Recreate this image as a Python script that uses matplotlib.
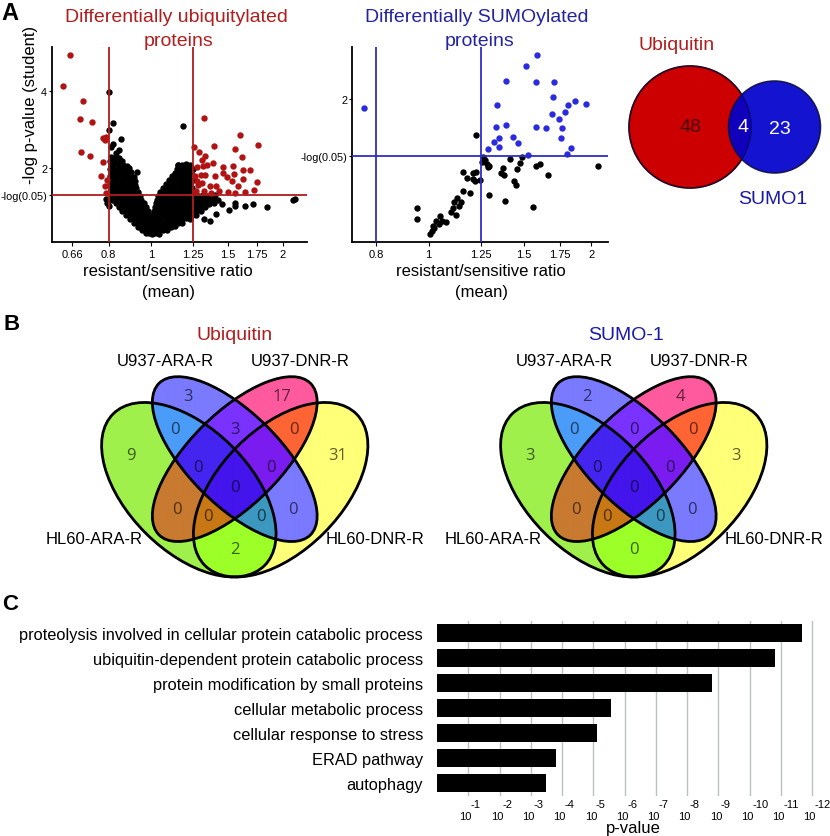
import numpy as np
import matplotlib.pyplot as plt
from matplotlib.patches import Ellipse, Circle
from matplotlib.colors import to_rgba
from matplotlib.ticker import NullLocator

plt.rcParams['font.family'] = ['Liberation Sans', 'DejaVu Sans']

# ---------------- data ----------------
# panel A, ubiquitin volcano: (resistant/sensitive ratio, -log p)
ub_sig = [
    (0.653, 4.94), (0.628, 4.14), (0.698, 3.75), (0.688, 3.27), (0.732, 3.19),
    (0.691, 2.41), (0.725, 2.30), (0.775, 2.77), (0.785, 2.73), (0.79, 2.80),
    (0.778, 2.15), (0.767, 1.78), (0.785, 1.54), (0.79, 1.35), (0.795, 1.70),
    (1.324, 3.30), (1.597, 2.86), (1.76, 2.60), (1.395, 2.58), (1.556, 2.49),
    (1.254, 2.54), (1.289, 2.42), (1.328, 2.32), (1.31, 2.20), (1.617, 2.29),
    (1.388, 2.13), (1.463, 2.02), (1.537, 2.06), (1.625, 1.95), (1.684, 1.96),
    (1.55, 1.85), (1.317, 2.06), (1.34, 2.08), (1.272, 2.02), (1.30, 1.83),
    (1.33, 1.83), (1.40, 1.80), (1.46, 1.86), (1.49, 1.76), (1.625, 1.71),
    (1.745, 1.63), (1.272, 1.67), (1.31, 1.62), (1.364, 1.54), (1.41, 1.54),
    (1.72, 1.44), (1.64, 1.37), (1.56, 1.36), (1.43, 1.41), (1.27, 1.41),
    (1.32, 1.41), (1.37, 1.36), (1.50, 1.38), (1.26, 1.78), (1.28, 1.55),
    (1.53, 1.65), (1.58, 1.52),
]
ub_ns = [
    # outliers
    (0.803, 3.98), (0.82, 3.16), (1.185, 3.10), (0.80, 2.98), (0.852, 2.74),
    (0.81, 2.55), (0.845, 2.46), (0.82, 2.62), (0.83, 2.40), (0.93, 1.89),
    (1.155, 2.08), (1.18, 1.98), (2.13, 1.19), (2.11, 1.17), (1.84, 0.99),
    (1.71, 1.06), (1.64, 1.02), (1.56, 1.10), (1.56, 1.00), (1.51, 0.91),
    (1.45, 1.06), (1.364, 0.63), (1.41, 0.81), (1.32, 0.68),
    (0.79, 1.20), (0.795, 1.10), (0.80, 1.00),
    # left arm of the V
    (0.81, 2.28), (0.83, 2.29), (0.845, 2.27),
    (0.805, 2.18), (0.82, 2.19), (0.84, 2.17), (0.86, 2.18),
    (0.81, 2.08), (0.825, 2.09), (0.845, 2.07), (0.865, 2.08), (0.88, 2.06),
    (0.805, 1.98), (0.82, 1.99), (0.84, 1.97), (0.86, 1.98), (0.875, 1.96), (0.89, 1.99),
    (0.81, 1.88), (0.83, 1.89), (0.85, 1.87), (0.87, 1.88), (0.885, 1.86), (0.90, 1.89),
    (0.805, 1.78), (0.82, 1.79), (0.84, 1.77), (0.86, 1.78), (0.88, 1.76), (0.90, 1.79), (0.915, 1.77),
    (0.81, 1.68), (0.83, 1.69), (0.85, 1.67), (0.87, 1.68), (0.89, 1.66), (0.905, 1.69), (0.92, 1.67),
    (0.805, 1.58), (0.825, 1.59), (0.845, 1.57), (0.865, 1.58), (0.885, 1.56), (0.90, 1.59), (0.92, 1.57),
    (0.81, 1.48), (0.83, 1.49), (0.85, 1.47), (0.87, 1.48), (0.89, 1.46), (0.91, 1.49), (0.925, 1.47),
    (0.805, 1.38), (0.82, 1.39), (0.84, 1.37), (0.86, 1.38), (0.88, 1.36), (0.90, 1.39), (0.92, 1.37), (0.935, 1.38),
    (0.81, 1.28), (0.83, 1.29), (0.85, 1.27), (0.87, 1.28), (0.89, 1.26), (0.91, 1.29), (0.93, 1.27), (0.945, 1.28),
    (0.815, 1.18), (0.835, 1.19), (0.855, 1.17), (0.875, 1.18), (0.895, 1.16), (0.915, 1.19), (0.935, 1.17), (0.95, 1.18),
    (0.83, 1.08), (0.85, 1.09), (0.87, 1.07), (0.89, 1.08), (0.91, 1.06), (0.93, 1.09), (0.95, 1.07), (0.965, 1.08),
    (0.845, 0.98), (0.865, 0.99), (0.885, 0.97), (0.905, 0.98), (0.925, 0.96), (0.945, 0.99), (0.96, 0.97), (0.975, 0.98),
    (0.86, 0.88), (0.88, 0.89), (0.90, 0.87), (0.92, 0.88), (0.94, 0.86), (0.955, 0.89), (0.97, 0.87), (0.985, 0.88),
    (0.875, 0.78), (0.895, 0.79), (0.915, 0.77), (0.935, 0.78), (0.95, 0.76), (0.965, 0.79), (0.98, 0.77), (0.995, 0.78),
    (0.895, 0.68), (0.915, 0.69), (0.935, 0.67), (0.95, 0.68), (0.965, 0.66), (0.98, 0.69), (0.995, 0.67),
    (0.915, 0.58), (0.935, 0.59), (0.95, 0.57), (0.965, 0.58), (0.98, 0.56), (0.995, 0.59),
    (0.935, 0.48), (0.955, 0.49), (0.97, 0.47), (0.985, 0.48), (1.0, 0.46),
    (0.955, 0.38), (0.97, 0.39), (0.985, 0.37), (1.0, 0.38),
    (0.975, 0.30), (0.99, 0.31), (1.005, 0.29),
    # right arm of the V
    (1.155, 2.08), (1.18, 2.07), (1.205, 2.09), (1.23, 2.08),
    (1.145, 1.98), (1.17, 1.97), (1.195, 1.99), (1.22, 1.98), (1.245, 1.97),
    (1.135, 1.88), (1.16, 1.87), (1.185, 1.89), (1.21, 1.88), (1.235, 1.87),
    (1.115, 1.78), (1.14, 1.77), (1.165, 1.79), (1.19, 1.78), (1.215, 1.77), (1.24, 1.79),
    (1.10, 1.68), (1.125, 1.67), (1.15, 1.69), (1.175, 1.68), (1.20, 1.67), (1.225, 1.69), (1.245, 1.68),
    (1.08, 1.58), (1.105, 1.57), (1.13, 1.59), (1.155, 1.58), (1.18, 1.57), (1.205, 1.59), (1.23, 1.58),
    (1.065, 1.48), (1.09, 1.47), (1.115, 1.49), (1.14, 1.48), (1.165, 1.47), (1.19, 1.49), (1.215, 1.48), (1.24, 1.47),
    (1.05, 1.38), (1.075, 1.37), (1.10, 1.39), (1.125, 1.38), (1.15, 1.37), (1.175, 1.39), (1.20, 1.38),
    (1.225, 1.37), (1.245, 1.39),
    (1.04, 1.28), (1.065, 1.27), (1.09, 1.29), (1.115, 1.28), (1.14, 1.27), (1.165, 1.29), (1.19, 1.28),
    (1.215, 1.27), (1.24, 1.29), (1.265, 1.28), (1.29, 1.27), (1.315, 1.29), (1.34, 1.28), (1.37, 1.27), (1.40, 1.29),
    (1.03, 1.18), (1.055, 1.17), (1.08, 1.19), (1.105, 1.18), (1.13, 1.17), (1.155, 1.19), (1.18, 1.18),
    (1.205, 1.17), (1.23, 1.19), (1.255, 1.18), (1.28, 1.17), (1.305, 1.19), (1.33, 1.18), (1.36, 1.17),
    (1.39, 1.19), (1.42, 1.18),
    (1.025, 1.08), (1.05, 1.07), (1.075, 1.09), (1.10, 1.08), (1.125, 1.07), (1.15, 1.09), (1.175, 1.08),
    (1.20, 1.07), (1.225, 1.09), (1.25, 1.08), (1.275, 1.07), (1.30, 1.09), (1.33, 1.08), (1.36, 1.07), (1.39, 1.09),
    (1.02, 0.98), (1.045, 0.97), (1.07, 0.99), (1.095, 0.98), (1.12, 0.97), (1.145, 0.99), (1.17, 0.98),
    (1.195, 0.97), (1.22, 0.99), (1.245, 0.98), (1.27, 0.97), (1.30, 0.99), (1.33, 0.98),
    (1.015, 0.88), (1.04, 0.87), (1.065, 0.89), (1.09, 0.88), (1.115, 0.87), (1.14, 0.89), (1.165, 0.88),
    (1.19, 0.87), (1.215, 0.89), (1.24, 0.88), (1.27, 0.87), (1.30, 0.89),
    (1.01, 0.78), (1.035, 0.77), (1.06, 0.79), (1.085, 0.78), (1.11, 0.77), (1.135, 0.79), (1.16, 0.78),
    (1.185, 0.77), (1.21, 0.79), (1.24, 0.78), (1.27, 0.77),
    (1.01, 0.68), (1.03, 0.67), (1.055, 0.69), (1.08, 0.68), (1.105, 0.67), (1.13, 0.69), (1.155, 0.68),
    (1.18, 0.67), (1.205, 0.69), (1.23, 0.68),
    (1.01, 0.58), (1.03, 0.57), (1.05, 0.59), (1.075, 0.58), (1.10, 0.57), (1.125, 0.59), (1.15, 0.58), (1.175, 0.57),
    (1.015, 0.48), (1.035, 0.47), (1.06, 0.49), (1.085, 0.48), (1.11, 0.47), (1.135, 0.49),
    (1.015, 0.38), (1.04, 0.37), (1.065, 0.39), (1.09, 0.38),
    (1.02, 0.30), (1.045, 0.29),
]

# panel A, SUMO volcano
sumo_sig = [
    (0.760, 1.886), (1.585, 2.54), (1.514, 2.40), (1.391, 2.225), (1.580, 2.21),
    (1.706, 2.21), (1.70, 2.03), (1.339, 1.93), (1.809, 1.93), (1.864, 1.976),
    (1.953, 1.94), (1.786, 1.84), (1.693, 1.82), (1.741, 1.755), (1.763, 1.64),
    (1.649, 1.65), (1.58, 1.66), (1.391, 1.68), (1.333, 1.66), (1.757, 1.52),
    (1.431, 1.53), (1.349, 1.52), (1.322, 1.47), (1.461, 1.46), (1.35, 1.41),
    (1.289, 1.387), (1.835, 1.395), (1.80, 1.33), (1.525, 1.31),
]
sumo_ns = [
    (1.224, 1.56), (1.272, 1.256), (1.28, 1.20), (1.29, 1.16), (1.256, 1.23),
    (1.374, 1.15), (1.36, 1.09), (1.38, 1.07), (1.415, 1.264), (1.456, 1.14),
    (1.476, 1.215), (1.487, 1.285), (1.436, 1.00), (1.452, 0.945), (1.385, 0.745),
    (1.294, 0.826), (1.558, 0.675), (1.58, 1.18), (1.605, 1.20), (1.664, 1.07),
    (2.055, 1.175), (1.244, 1.01), (1.22, 1.00), (1.21, 1.02), (1.224, 1.10),
    (1.21, 1.09), (1.16, 1.108), (1.179, 1.027), (1.159, 0.875), (1.192, 0.847),
    (1.130, 0.78), (1.146, 0.74), (1.115, 0.733), (1.137, 0.69), (1.102, 0.62),
    (1.125, 0.58), (1.052, 0.57), (1.033, 0.507), (1.075, 0.487), (1.02, 0.446),
    (1.016, 0.385), (1.008, 0.344), (1.024, 0.414), (0.951, 0.663), (0.953, 0.528),
    (1.292, 1.18), (1.26, 1.29), (1.06, 0.50), (1.045, 0.47), (1.11, 0.66),
]
ratio_ticks = [0.66, 0.8, 1, 1.25, 1.5, 1.75, 2]
ratio_ticklabels = ['0.66', '0.8', '1', '1.25', '1.5', '1.75', '2']
sumo_ratio_ticks = [0.8, 1, 1.25, 1.5, 1.75, 2]
sumo_ratio_ticklabels = ['0.8', '1', '1.25', '1.5', '1.75', '2']
ratio_cut = [0.8, 1.25]
p_cut = -np.log10(0.05)

# overlap of the two sets (Ubiquitin only, both, SUMO1 only)
overlap_counts = [48, 4, 23]

# panel B, 4-set Venn: A=HL60-ARA-R, B=U937-ARA-R, C=U937-DNR-R, D=HL60-DNR-R
venn_sets = ['HL60-ARA-R', 'U937-ARA-R', 'U937-DNR-R', 'HL60-DNR-R']
venn_regions = ['A', 'B', 'C', 'D', 'AB', 'AC', 'AD', 'BC', 'BD', 'CD',
                'ABC', 'ABD', 'ACD', 'BCD', 'ABCD']
ub_venn_counts = [9, 3, 17, 31, 0, 0, 2, 3, 0, 0, 0, 0, 0, 0, 0]
sumo_venn_counts = [3, 2, 4, 3, 0, 0, 0, 0, 0, 0, 0, 0, 0, 0, 0]

# panel C, GO terms
go_terms = ['proteolysis involved in cellular protein catabolic process',
            'ubiquitin-dependent protein catabolic process',
            'protein modification by small proteins',
            'cellular metabolic process',
            'cellular response to stress',
            'ERAD pathway',
            'autophagy']
go_neglog_p = [11.66, 10.80, 8.79, 5.56, 5.11, 3.80, 3.48]
go_exponents = list(range(1, 13))

# ---------------- figure ----------------
W, H = 830, 837
fig = plt.figure(figsize=(W / 100, H / 100), dpi=100)

RED = '#b01e1e'
RED_DOT = '#b21212'
BLUE = '#24249e'
BLUE_DOT = '#2a2ae0'
BLUE_LINE = '#2d2dc8'


def px_axes(x0, y0, x1, y1):
    return fig.add_axes([x0 / W, 1 - y1 / H, (x1 - x0) / W, (y1 - y0) / H])


def ftext(x, y, s, **kw):
    return fig.text(x / W, 1 - y / H, s, **kw)


def volcano(ax, ns, sig, sig_color, line_color, xlim, ylim, xt, xtl, yt, ytl):
    r, p = zip(*ns)
    ax.scatter(r, p, s=21, c='black', linewidths=0, zorder=2)
    r, p = zip(*sig)
    ax.scatter(r, p, s=21, c=sig_color, linewidths=0, zorder=3)
    ax.set_xscale('log')
    ax.set_xlim(*xlim)
    ax.set_ylim(*ylim)
    for c in ratio_cut:
        ax.axvline(c, color=line_color, lw=1.3, zorder=4)
    ax.axhline(p_cut, color=line_color, lw=1.3, zorder=4)
    ax.set_xticks(xt)
    ax.set_xticklabels(xtl)
    ax.xaxis.set_minor_locator(NullLocator())
    ax.set_yticks(yt)
    ax.set_yticklabels(ytl)
    for s in ['top', 'right']:
        ax.spines[s].set_visible(False)
    for s in ['left', 'bottom']:
        ax.spines[s].set_linewidth(1.3)
    ax.tick_params(labelsize=8, length=3, width=0.8, pad=2)
    ax.tick_params(axis='y', labelsize=7.8, length=2.5, pad=1)


ax1 = px_axes(52, 48, 307, 243)
volcano(ax1, ub_ns, ub_sig, RED_DOT, RED, (0.594, 2.273), (0.078, 5.14),
        ratio_ticks, ratio_ticklabels, [p_cut, 2, 4], ['-log(0.05)', '2', '4'])
ax2 = px_axes(352, 48, 608, 243)
volcano(ax2, sumo_ns, sumo_sig, BLUE_DOT, BLUE_LINE, (0.722, 2.147), (0.246, 2.638),
        sumo_ratio_ticks, sumo_ratio_ticklabels, [p_cut, 2], ['-log(0.05)', '2'])

ftext(176, 18, 'Differentially ubiquitylated', color=RED, fontsize=14, ha='center', va='center')
ftext(179, 42, 'proteins', color=RED, fontsize=14, ha='center', va='center')
ftext(477, 18, 'Differentially SUMOylated', color=BLUE, fontsize=14, ha='center', va='center')
ftext(480, 42, 'proteins', color=BLUE, fontsize=14, ha='center', va='center')
ftext(31, 105, '-log p-value (student)', fontsize=12, rotation=90, ha='center', va='center')
for cx in (168, 481):
    ftext(cx, 272, 'resistant/sensitive ratio', fontsize=12, ha='center', va='center')
    ftext(cx, 293, '(mean)', fontsize=12, ha='center', va='center')

# two-set Venn
axv = px_axes(600, 0, 830, 230)
axv.set_xlim(600, 830)
axv.set_ylim(230, 0)
axv.axis('off')
ub_total = overlap_counts[0] + overlap_counts[1]
sumo_total = overlap_counts[1] + overlap_counts[2]
k = 61 / np.sqrt(ub_total)
c_ub, c_su = (690, 128), (774.5, 128)
axv.add_patch(Circle(c_ub, k * np.sqrt(ub_total), fc='#cc0000', ec='#3a0000', lw=1.2))
axv.add_patch(Circle(c_su, k * np.sqrt(sumo_total) + 2, fc='#0000cc', ec='#10104a', lw=1.2, alpha=0.92))
axv.add_patch(Circle(c_ub, k * np.sqrt(ub_total), fill=False, ec='#10104a', lw=1.0, alpha=0.6))
axv.text(690, 128, str(overlap_counts[0]), fontsize=14, ha='center', va='center', color='#4a0000')
axv.text(743, 128, str(overlap_counts[1]), fontsize=14, ha='center', va='center', color='white')
axv.text(780, 129, str(overlap_counts[2]), fontsize=14, ha='center', va='center', color='white')
axv.text(677, 46, 'Ubiquitin', fontsize=14, ha='center', va='center', color=RED)
axv.text(773, 199, 'SUMO1', fontsize=14, ha='center', va='center', color='#1a1aa8')

# four-set Venns
ellipses = {'A': (0.35, 0.47, 0.35, 0.20, -45), 'B': (0.50, 0.57, 0.35, 0.15, -45),
            'C': (0.50, 0.57, 0.35, 0.15, 45), 'D': (0.65, 0.47, 0.35, 0.20, 45)}
region_colors = {'A': '#a0f04c', 'B': '#7a7aff', 'C': '#ff5a9e', 'D': '#ffff78',
                 'AB': '#4a9cf8', 'AC': '#c87a30', 'AD': '#9cff28', 'BC': '#7a32ff',
                 'BD': '#7a7aff', 'CD': '#ff6434', 'ABC': '#4424f0', 'ABD': '#3c98c0',
                 'ACD': '#c87814', 'BCD': '#7a1cf0', 'ABCD': '#4414ec'}
region_pos = {'A': (0.16, 0.585), 'B': (0.346, 0.775), 'C': (0.654, 0.775), 'D': (0.835, 0.585),
              'AB': (0.305, 0.669), 'AC': (0.31, 0.407), 'AD': (0.5, 0.277), 'BC': (0.5, 0.669),
              'BD': (0.69, 0.407), 'CD': (0.695, 0.669), 'ABC': (0.381, 0.543),
              'ABD': (0.587, 0.383), 'ACD': (0.413, 0.383), 'BCD': (0.619, 0.543),
              'ABCD': (0.5, 0.478)}
set_label_pos = [(0.039, 0.309), (0.274, 0.891), (0.713, 0.891), (0.959, 0.309)]

U0, U1, V0, V1 = -0.267, 1.089, 0.113, 1.093
gu, gv = np.meshgrid(np.linspace(U0, U1, 1100), np.linspace(V0, V1, 800))
inside = {}
for key, (cx, cy, a, b, ang) in ellipses.items():
    t = np.deg2rad(ang)
    dx, dy = gu - cx, gv - cy
    xr = dx * np.cos(t) + dy * np.sin(t)
    yr = -dx * np.sin(t) + dy * np.cos(t)
    inside[key] = (xr / a) ** 2 + (yr / b) ** 2 <= 1
img = np.zeros(gu.shape + (4,))
for reg in venn_regions:
    m = np.ones(gu.shape, bool)
    for key in 'ABCD':
        m &= inside[key] if key in reg else ~inside[key]
    img[m] = to_rgba(region_colors[reg])


def venn4(x0, counts, title, title_color, title_x):
    ax = px_axes(x0, 300, x0 + 415, 600)
    ax.imshow(img, extent=[U0, U1, V0, V1], origin='lower', aspect='auto', zorder=1)
    for key, (cx, cy, a, b, ang) in ellipses.items():
        ax.add_patch(Ellipse((cx, cy), 2 * a, 2 * b, angle=ang, fill=False, ec='black', lw=2.0, zorder=2))
    for reg, n in zip(venn_regions, counts):
        ax.text(*region_pos[reg], str(n), fontsize=12, ha='center', va='center',
                color='black', alpha=0.62, family='Open Sans', zorder=3)
    for name, (x, y) in zip(venn_sets, set_label_pos):
        ax.text(x, y, name, fontsize=12, ha='center', va='center')
    ax.text(title_x, 0.976, title, fontsize=14, ha='center', va='center', color=title_color)
    ax.set_xlim(U0, U1)
    ax.set_ylim(V0, V1)
    ax.axis('off')


venn4(0, ub_venn_counts, 'Ubiquitin', RED, 0.5)
venn4(399, sumo_venn_counts, 'SUMO-1', '#1a1aa8', 0.474)

# panel C bar chart
axc = px_axes(437, 621.5, 820, 796.5)
n = len(go_terms)
axc.barh(range(n), go_neglog_p, height=0.74, color='black', zorder=3)
axc.set_ylim(n - 0.5, -0.5)
axc.set_xlim(0, 12.25)
for e in go_exponents:
    axc.axvline(e, color='#b9c3c3', lw=1.0, zorder=1)
    axc.text(e - 0.08, -0.118, '10', transform=axc.get_xaxis_transform(),
             fontsize=8, ha='center', va='center')
    axc.text(e + 0.08, -0.046, f'-{e}', transform=axc.get_xaxis_transform(),
             fontsize=8, ha='left', va='center')
axc.set_xticks([])
axc.set_yticks(range(n))
axc.set_yticklabels(go_terms, fontsize=11.8)
axc.tick_params(axis='y', length=0, pad=10)
for s in axc.spines.values():
    s.set_visible(False)
ftext(633, 829, 'p-value', fontsize=12, ha='center', va='center')

# panel letters
ftext(9.5, 13.5, 'A', fontsize=17, fontweight='bold', ha='center', va='center')
ftext(11.5, 324.5, 'B', fontsize=16, fontweight='bold', ha='center', va='center')
ftext(10, 605, 'C', fontsize=16, fontweight='bold', ha='center', va='center')

fig.savefig('out.png', dpi=100)
